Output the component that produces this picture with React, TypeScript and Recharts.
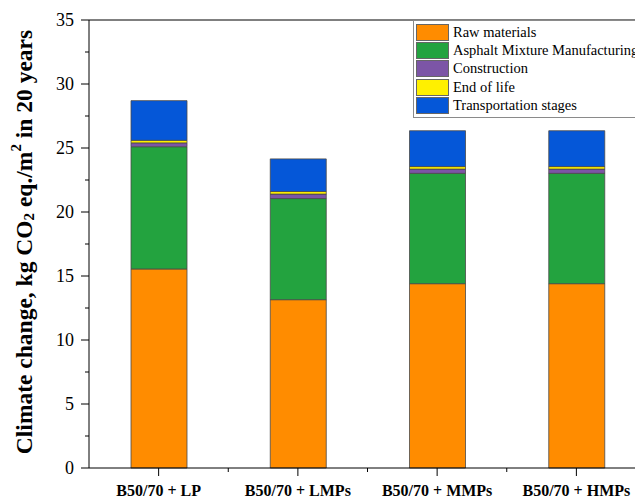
import React from "react";
import {
  BarChart,
  Bar,
  XAxis,
  YAxis,
  Legend,
  ReferenceLine,
} from "recharts";

const CATEGORIES = ["B50/70 + LP", "B50/70 + LMPs", "B50/70 + MMPs", "B50/70 + HMPs"];
const RAW_MATERIALS = [15.55, 13.15, 14.4, 14.4];
const ASPHALT_MIXTURE = [9.55, 7.9, 8.62, 8.62];
const CONSTRUCTION = [0.3, 0.35, 0.33, 0.33];
const END_OF_LIFE = [0.2, 0.2, 0.2, 0.2];
const TRANSPORTATION = [3.1, 2.55, 2.8, 2.8];
const Y_TICKS = [0, 2.5, 5, 7.5, 10, 12.5, 15, 17.5, 20, 22.5, 25, 27.5, 30, 32.5, 35];

const SERIES = [
  { key: "raw", name: "Raw materials", color: "#FF8C00" },
  { key: "asphalt", name: "Asphalt Mixture Manufacturing", color: "#23A33F" },
  { key: "construction", name: "Construction", color: "#7C55A6" },
  { key: "eol", name: "End of life", color: "#FFF000" },
  { key: "transport", name: "Transportation stages", color: "#0557D8" },
];

const data = CATEGORIES.map((name, i) => ({
  name,
  raw: RAW_MATERIALS[i],
  asphalt: ASPHALT_MIXTURE[i],
  construction: CONSTRUCTION[i],
  eol: END_OF_LIFE[i],
  transport: TRANSPORTATION[i],
}));

const FONT = "Liberation Serif";
const CHART_W = 660;
const CHART_H = 490;
const MARGIN = { top: 12, right: 22, bottom: 0, left: 0 };
const Y_AXIS_W = 81;
const BAND_HALF = (CHART_W - MARGIN.left - MARGIN.right - Y_AXIS_W) / CATEGORIES.length / 2;

const YTick = (props: any) => {
  const { x, y, payload } = props;
  const axisX = x + 15;
  const major = payload.value % 5 === 0;
  return (
    <g>
      <line x1={axisX} x2={axisX - (major ? 8 : 4)} y1={y} y2={y} stroke="#000" strokeWidth={1} />
      {major && (
        <text x={x} y={y} dy={6} textAnchor="end" style={{ fontFamily: FONT, fontSize: 18 }} fill="#000">
          {payload.value}
        </text>
      )}
    </g>
  );
};

const XTick = (props: any) => {
  const { x, y, payload } = props;
  const axisY = y - 12;
  return (
    <g>
      <line x1={x} x2={x} y1={axisY} y2={axisY + 8} stroke="#000" strokeWidth={1} />
      <line x1={x + BAND_HALF} x2={x + BAND_HALF} y1={axisY} y2={axisY + 4} stroke="#000" strokeWidth={1} />
      <text
        x={x}
        y={y}
        dy={16}
        textAnchor="middle"
        style={{ fontFamily: FONT, fontSize: 16, fontWeight: "bold" }}
        fill="#000"
      >
        {payload.value}
      </text>
    </g>
  );
};

const YTitle = (props: any) => {
  const { viewBox } = props;
  const cx = 16;
  const cy = viewBox.y + viewBox.height / 2 - 2;
  return (
    <text
      x={cx}
      y={cy}
      transform={`rotate(-90, ${cx}, ${cy})`}
      textAnchor="middle"
      dominantBaseline="central"
      style={{ fontFamily: FONT, fontSize: 23.5, fontWeight: "bold" }}
      fill="#000"
    >
      <tspan>Climate change, kg CO</tspan>
      <tspan dy={5} style={{ fontSize: 15 }}>2</tspan>
      <tspan dy={-5}> eq./m</tspan>
      <tspan dy={-8} style={{ fontSize: 15 }}>2</tspan>
      <tspan dy={8}> in 20 years</tspan>
    </text>
  );
};

const LegendBox = () => (
  <div
    style={{
      border: "1px solid #8a8a8a",
      background: "#fff",
      padding: "2px 0 3px 2px",
      fontFamily: FONT,
      fontSize: 14.5,
      color: "#000",
      width: 240,
    }}
  >
    {SERIES.map((s) => (
      <div key={s.key} style={{ display: "flex", alignItems: "center", height: 18.3 }}>
        <span
          style={{
            display: "inline-block",
            width: 31,
            height: 15,
            background: s.color,
            border: "1px solid #666",
            marginRight: 4,
          }}
        />
        <span style={{ whiteSpace: "nowrap" }}>{s.name}</span>
      </div>
    ))}
  </div>
);

export default function App() {
  return (
    <div style={{ width: 635, height: CHART_H, overflow: "hidden" }}>
      <BarChart width={CHART_W} height={CHART_H} data={data} margin={MARGIN} barSize={56}>
        <XAxis
          dataKey="name"
          axisLine={{ stroke: "#000", strokeWidth: 1 }}
          tickLine={false}
          tickSize={8}
          tickMargin={4}
          height={30}
          interval={0}
          tick={<XTick />}
        />
        <YAxis
          domain={[0, 35]}
          ticks={Y_TICKS}
          interval={0}
          width={Y_AXIS_W}
          axisLine={{ stroke: "#000", strokeWidth: 1 }}
          tickLine={false}
          tickSize={8}
          tickMargin={7}
          tick={<YTick />}
          label={{ content: <YTitle /> }}
        />
        <ReferenceLine y={35} stroke="#000" strokeWidth={1} />
        <Legend
          layout="horizontal"
          verticalAlign="middle"
          align="center"
          wrapperStyle={{ left: 405, top: 12, width: "auto" }}
          content={<LegendBox />}
        />
        {SERIES.map((s) => (
          <Bar
            key={s.key}
            dataKey={s.key}
            name={s.name}
            stackId="a"
            fill={s.color}
            stroke="#4a4a4a"
            strokeWidth={0.8}
            isAnimationActive={false}
          />
        ))}
      </BarChart>
    </div>
  );
}
